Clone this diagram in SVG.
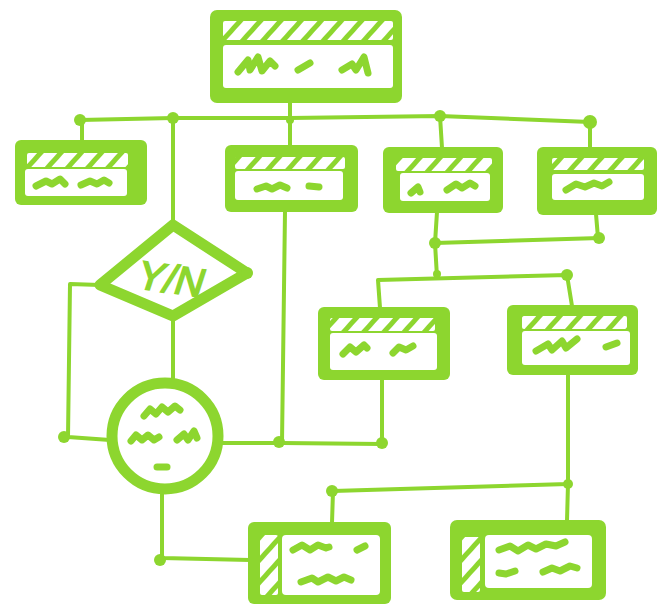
<svg xmlns="http://www.w3.org/2000/svg" width="658" height="606" viewBox="0 0 658 606">
<defs>
<pattern id="hatch" patternUnits="userSpaceOnUse" width="15" height="15" patternTransform="rotate(42)">
<rect x="0" y="0" width="10" height="15" fill="#fff"/>
</pattern>
</defs>
<style>
.box{fill:#8DD62F;}
.band{fill:url(#hatch);}
.inner{fill:#fff;}
.scr{fill:none;stroke:#8DD62F;stroke-width:7;stroke-linecap:round;stroke-linejoin:round;}
.ln{fill:none;stroke:#8DD62F;stroke-width:4;stroke-linecap:round;stroke-linejoin:round;}
.dot{fill:#8DD62F;}
.shape{fill:#fff;stroke:#8DD62F;stroke-width:11;stroke-linejoin:round;}
.lbl{font-family:"Liberation Sans",Arial,sans-serif;font-size:40px;font-weight:normal;fill:#8DD62F;stroke:#8DD62F;stroke-width:1.6;}
</style>
<rect width="658" height="606" fill="#fff"/>

<g id="connectors">
<path class="ln" d="M290,103 L290,118"/>
<path class="ln" d="M80,120 L173,118 L290,118 L440,116 L590,122"/>
<path class="ln" d="M82,120 L82,141"/>
<path class="ln" d="M173,118 L173,225"/>
<path class="ln" d="M290,118 L290,146"/>
<path class="ln" d="M440,116 L442,148"/>
<path class="ln" d="M590,122 L590,148"/>
<path class="ln" d="M285,211 L282,443"/>
<path class="ln" d="M437,212 L435,243 L600,238"/>
<path class="ln" d="M596,214 L598,238"/>
<path class="ln" d="M435,243 L437,277"/>
<path class="ln" d="M380,308 L378,280 L567,275 L572,306"/>
<path class="ln" d="M100,285 L70,284 L68,437 L110,440"/>
<path class="ln" d="M173,316 L173,380"/>
<path class="ln" d="M222,443 L282,443 L382,444"/>
<path class="ln" d="M382,378 L382,444"/>
<path class="ln" d="M568,374 L568,484 L333,491 L332,523"/>
<path class="ln" d="M568,484 L567,521"/>
<path class="ln" d="M162,492 L162,558 L250,560"/>
<circle class="dot" cx="80" cy="120" r="6"/>
<circle class="dot" cx="173" cy="118" r="6"/>
<circle class="dot" cx="290" cy="120" r="4"/>
<circle class="dot" cx="440" cy="116" r="6"/>
<circle class="dot" cx="590" cy="122" r="7"/>
<circle class="dot" cx="435" cy="243" r="6"/>
<circle class="dot" cx="599" cy="238" r="6"/>
<circle class="dot" cx="437" cy="274" r="4"/>
<circle class="dot" cx="567" cy="275" r="6"/>
<circle class="dot" cx="64" cy="437" r="6"/>
<circle class="dot" cx="279" cy="442" r="6"/>
<circle class="dot" cx="382" cy="443" r="6"/>
<circle class="dot" cx="332" cy="491" r="6"/>
<circle class="dot" cx="568" cy="484" r="5"/>
<circle class="dot" cx="160" cy="560" r="6"/>
</g>

<g id="n-top">
<rect class="box" x="210" y="10" width="192" height="93" rx="7"/>
<rect class="band" x="223" y="21" width="170" height="19" rx="2"/>
<rect class="inner" x="223" y="45" width="170" height="43" rx="3"/>
<path class="scr" d="M238,72 L248,60 L250,70 L258,57 L262,71 L270,61 L275,66"/>
<path class="scr" d="M298,70 L310,63"/>
<path class="scr" d="M342,70 L352,64 L356,70 L364,57 L368,73"/>
</g>

<g id="n-a">
<rect class="box" x="15" y="140" width="132" height="65" rx="6"/>
<rect class="band" x="27" y="153" width="101" height="14" rx="2"/>
<rect class="inner" x="25" y="169" width="102" height="27" rx="3"/>
<path class="scr" d="M36,186 L46,181 L52,184 L60,179 L65,184"/>
<path class="scr" d="M81,185 L90,181 L97,184 L104,180 L109,183"/>
</g>

<g id="n-b">
<rect class="box" x="225" y="145" width="133" height="67" rx="6"/>
<rect class="band" x="235" y="157" width="110" height="12" rx="2"/>
<rect class="inner" x="235" y="171" width="108" height="29" rx="3"/>
<path class="scr" d="M257,189 L266,186 L272,189 L280,185 L287,188"/>
<path class="scr" d="M309,186 L319,187"/>
</g>

<g id="n-c">
<rect class="box" x="383" y="147" width="120" height="66" rx="6"/>
<rect class="band" x="396" y="158" width="96" height="13" rx="2"/>
<rect class="inner" x="400" y="173" width="90" height="28" rx="3"/>
<path class="scr" d="M411,193 L418,187 L420,192"/>
<path class="scr" d="M447,190 L456,184 L462,188 L470,183 L475,186"/>
</g>

<g id="n-d">
<rect class="box" x="537" y="147" width="120" height="68" rx="6"/>
<rect class="band" x="552" y="158" width="92" height="12" rx="2"/>
<rect class="inner" x="552" y="174" width="92" height="26" rx="3"/>
<path class="scr" d="M566,190 L576,184 L585,187 L594,183 L602,186 L609,182"/>
</g>

<g id="n-e">
<rect class="box" x="318" y="307" width="132" height="73" rx="6"/>
<rect class="band" x="330" y="318" width="105" height="13" rx="2"/>
<rect class="inner" x="330" y="333" width="107" height="37" rx="3"/>
<path class="scr" d="M343,354 L350,347 L356,352 L364,345 L367,348"/>
<path class="scr" d="M393,353 L399,347 L406,350 L413,346"/>
</g>

<g id="n-f">
<rect class="box" x="507" y="305" width="131" height="70" rx="6"/>
<rect class="band" x="522" y="316" width="105" height="13" rx="2"/>
<rect class="inner" x="522" y="331" width="108" height="34" rx="3"/>
<path class="scr" d="M536,351 L548,344 L552,350 L562,341 L566,348 L577,339"/>
<path class="scr" d="M606,347 L617,343"/>
</g>

<g id="n-diamond">
<path class="shape" d="M173,225 L247,273 L173,316 L100,285 Z"/>
<circle class="dot" cx="247" cy="273" r="6"/>
<text class="lbl" x="172" y="293" text-anchor="middle" transform="rotate(8 172 278) translate(172,278) skewX(-10) translate(-172,-278)">Y/N</text>
</g>

<g id="n-circle">
<circle class="shape" cx="165" cy="436" r="53" stroke-width="12"/>
<path class="scr" d="M144,416 L150,409 L156,414 L162,407 L168,412 L175,406 L180,410"/>
<path class="scr" d="M131,441 L136,435 L142,440 L148,435 L154,440 L159,437"/>
<path class="scr" d="M177,440 L184,434 L188,440 L194,431 L197,438"/>
<path class="scr" d="M157,467 L167,467"/>
</g>

<g id="n-g">
<rect class="box" x="248" y="522" width="143" height="82" rx="6"/>
<rect class="band" x="260" y="535" width="18" height="60" rx="2"/>
<rect class="inner" x="282" y="535" width="98" height="60" rx="4"/>
<path class="scr" d="M293,550 L302,545 L310,550 L318,545 L326,548 L329,547"/>
<path class="scr" d="M357,550 L365,546"/>
<path class="scr" d="M301,582 L312,578 L318,582 L328,577 L336,581 L344,577 L351,580"/>
</g>

<g id="n-h">
<rect class="box" x="450" y="520" width="156" height="80" rx="7"/>
<rect class="band" x="462" y="537" width="18" height="55" rx="2"/>
<rect class="inner" x="485" y="535" width="107" height="53" rx="4"/>
<path class="scr" d="M499,550 L510,546 L518,551 L528,545 L536,549 L546,544 L556,546 L565,542"/>
<path class="scr" d="M499,573 L506,574 L515,571"/>
<path class="scr" d="M543,572 L552,568 L560,571 L570,566 L577,568"/>
</g>
</svg>
